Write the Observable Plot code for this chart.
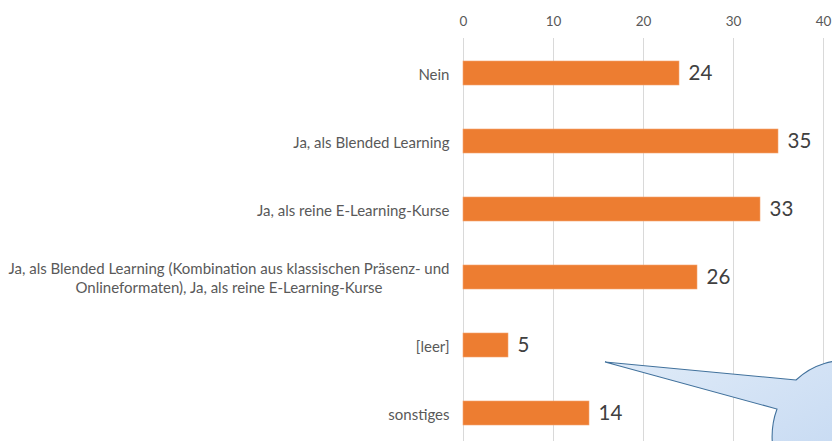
<!DOCTYPE html>
<html>
<head>
<meta charset="utf-8">
<script src="https://cdn.jsdelivr.net/npm/d3@7"></script>
<script src="https://cdn.jsdelivr.net/npm/@observablehq/plot@0.6"></script>
<style>
  html, body { margin: 0; padding: 0; background: #ffffff; }
  #chart { width: 832px; height: 441px; overflow: hidden; }
</style>
</head>
<body>
<div id="chart"></div>
<script>
const categories = [
  "Nein",
  "Ja, als Blended Learning",
  "Ja, als reine E-Learning-Kurse",
  "Ja, als Blended Learning (Kombination aus klassischen Präsenz- und\nOnlineformaten), Ja, als reine E-Learning-Kurse",
  "[leer]",
  "sonstiges"
];
const values = [24, 35, 33, 26, 5, 14];
const xTicks = [0, 10, 20, 30, 40];

const data = categories.map((c, i) => ({cat: c, value: values[i]}));

const chart = Plot.plot({
  width: 832,
  height: 441,
  marginLeft: 463,
  marginRight: 9,
  marginTop: 38,
  marginBottom: 0,
  style: {fontFamily: "Lato, 'Open Sans', sans-serif", background: "#ffffff", overflow: "hidden"},
  x: {domain: [0, 40], range: [463, 823]},
  y: {domain: categories, range: [38, 447], paddingInner: 0.65, paddingOuter: 0.325},
  marks: [
    Plot.ruleX(xTicks, {stroke: "#d9d9d9", strokeWidth: 1}),
    Plot.axisX(xTicks, {anchor: "top", tickSize: 0, tickPadding: 13, fontSize: 13.5, color: "#595959", label: null}),
    Plot.axisY({ticks: [], label: null}),
    Plot.text(data, {y: "cat", text: "cat", frameAnchor: "left", textAnchor: "end", dx: -14,
      fontSize: 15, fill: "#595959", lineHeight: 1.27}),
    Plot.barX(data, {x: "value", y: "cat", fill: "#ED7D31", stroke: "#f4a36e", strokeWidth: 0.6}),
    Plot.text(data, {x: "value", y: "cat", text: d => String(d.value), textAnchor: "start", dx: 9,
      fontSize: 20.5, fill: "#404040"})
  ]
});

document.getElementById("chart").appendChild(chart);

// center multi-line category labels on their widest line
d3.select(chart).selectAll("text").each(function() {
  const tspans = this.querySelectorAll("tspan");
  if (tspans.length > 1) {
    const widths = Array.from(tspans, t => t.getComputedTextLength());
    const maxW = Math.max(...widths);
    tspans.forEach((t, i) => t.setAttribute("dx", -(maxW - widths[i]) / 2));
  }
});

// callout bubble decoration
const svg = d3.select(chart);
const defs = svg.append("defs");
const grad = defs.append("linearGradient").attr("id", "bubbleGrad")
  .attr("x1", "0%").attr("y1", "0%").attr("x2", "100%").attr("y2", "100%");
grad.append("stop").attr("offset", "0%").attr("stop-color", "#e0ebf8");
grad.append("stop").attr("offset", "100%").attr("stop-color", "#bcd3f0");
svg.append("path")
  .attr("d", "M796,380 L605,362 L777,409 A72,76 0 1 0 796,380 Z")
  .attr("fill", "url(#bubbleGrad)")
  .attr("stroke", "#41719c")
  .attr("stroke-width", 1.1)
  .attr("stroke-linejoin", "miter");
</script>
</body>
</html>
